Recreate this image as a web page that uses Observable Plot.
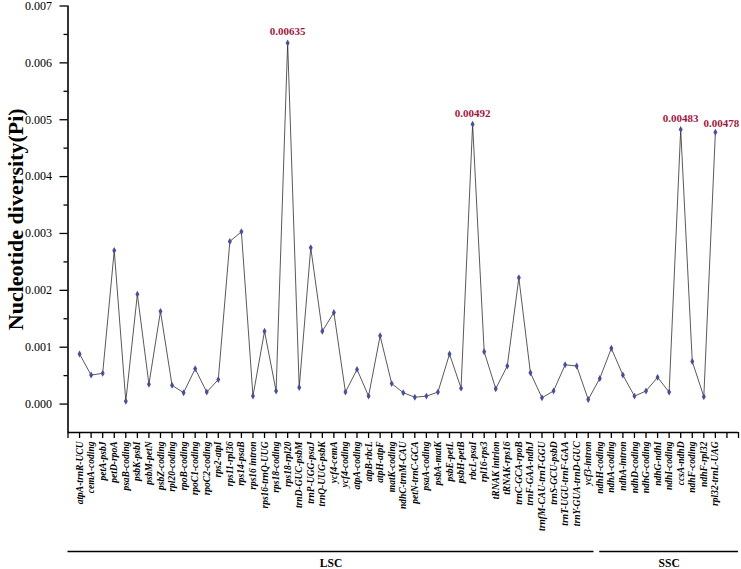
<!DOCTYPE html>
<html>
<head>
<meta charset="utf-8">
<script src="https://cdn.jsdelivr.net/npm/d3@7"></script>
<script src="https://cdn.jsdelivr.net/npm/@observablehq/plot@0.6"></script>
<style>
  html, body { margin: 0; padding: 0; background: white; }
</style>
</head>
<body>
<div id="chart"></div>
<script>
const categories = [
  "atpA-trnR-UCU","cemA-coding","petA-psbJ","petD-rpoA","psaB-coding","psbK-psbI","psbM-petN",
  "psbZ-coding","rpl20-coding","rpoB-coding","rpoC1-coding","rpoC2-coding","rps2-atpI","rps11-rpl36",
  "rps14-psaB","rps16 intron","rps16-trnQ-UUG","rps18-coding","rps18-rpl20","trnD-GUC-psbM",
  "trnP-UGG-psaJ","trnQ-UUG-psbK","ycf4-cemA","ycf4-coding","atpA-coding","atpB-rbcL","atpH-atpF",
  "matK-coding","ndhC-trnM-CAU","petN-trnC-GCA","psaA-coding","psbA-matK","psbE-petL","psbH-petB",
  "rbcL-psaI","rpl16-rps3","tRNAK intrion","tRNAK-rps16","trnC-GCA-rpoB","trnF-GAA-ndhJ",
  "trnfM-CAU-trnT-GGU","trnS-GCU-psbD","trnT-UGU-trnF-GAA","trnY-GUA-trnD-GUC","ycf3-intron",
  "ndhH-coding","ndhA-coding","ndhA-intron","ndhD-coding","ndhG-coding","ndhG-ndhI","ndhI-coding",
  "ccsA-ndhD","ndhF-coding","ndhF-rpl32","rpl32-trnL-UAG"
];

const pi = [
  0.00088, 0.00051, 0.00054, 0.00270, 0.00005, 0.00193, 0.00035,
  0.00163, 0.00033, 0.00020, 0.00062, 0.00021, 0.00043, 0.00286,
  0.00303, 0.00014, 0.00128, 0.00023, 0.00635, 0.00029,
  0.00275, 0.00128, 0.00161, 0.00021, 0.00061, 0.00014, 0.00120,
  0.00036, 0.00020, 0.00012, 0.00014, 0.00021, 0.00088, 0.00028,
  0.00492, 0.00092, 0.00027, 0.00067, 0.00222, 0.00055,
  0.00011, 0.00023, 0.00069, 0.00067, 0.00008,
  0.00045, 0.00098, 0.00051, 0.00014, 0.00023, 0.00047, 0.00021,
  0.00483, 0.00075, 0.00013, 0.00478
];

const regions = [
  {name: "LSC", first: "atpA-trnR-UCU", last: "ycf3-intron"},
  {name: "SSC", first: "ndhH-coding", last: "rpl32-trnL-UAG"}
];

const yTicks = [0, 0.001, 0.002, 0.003, 0.004, 0.005, 0.006, 0.007];
const yMinorTicks = [0.0005, 0.0015, 0.0025, 0.0035, 0.0045, 0.0055, 0.0065];
const yLabel = "Nucleotide diversity(Pi)";
const peakThreshold = 0.004;

const n = categories.length;
const data = categories.map((c, i) => ({i: i + 1, name: c, pi: pi[i]}));
const peaks = data.filter(d => d.pi > peakThreshold);
// a peak label that would collide with the previous one is nudged aside
const crowded = peaks.filter((d, k) => k > 0 && d.i - peaks[k - 1].i <= 4);
const clear = peaks.filter(d => !crowded.includes(d));
const yMin = -0.0005;
const xMax = n + 2;

const regionRows = regions.map(r => {
  const s = categories.indexOf(r.first) + 1;
  const e = categories.indexOf(r.last) + 1;
  const x1 = s === 1 ? 0 : s;
  const x2 = e === n ? xMax : e + 0.5;
  return {name: r.name, x1, x2, xm: (x1 + x2) / 2};
});

const serif = "'Liberation Serif', 'Times New Roman', serif";
const fmtPeak = d => d3.format(".5f")(d.pi);

const chart = Plot.plot({
  width: 741,
  height: 569,
  marginLeft: 67.5,
  marginRight: 3,
  marginTop: 5.5,
  marginBottom: 137,
  x: {domain: [0, xMax]},
  y: {domain: [yMin, 0.007]},
  style: {fontFamily: serif, background: "white", color: "black"},
  marks: [
    Plot.axisY(yTicks, {tickFormat: d3.format(".3f"), tickSize: 8, tickPadding: 8, fontSize: 12,
      fontFamily: serif, strokeWidth: 1.3, label: null}),
    Plot.axisY(yMinorTicks, {tickFormat: () => "", tickSize: 4, strokeWidth: 1.3, label: null}),
    Plot.axisX(d3.range(0, xMax + 1), {
      tickFormat: i => categories[i - 1] ?? "",
      tickRotate: -90, tickSize: 6, tickPadding: 3,
      fontSize: 9.5, fontWeight: "bold", fontStyle: "italic", fontFamily: serif,
      strokeWidth: 1.3, label: null
    }),
    Plot.ruleX([0], {stroke: "black", strokeWidth: 1.6}),
    Plot.ruleY([yMin], {stroke: "black", strokeWidth: 1.6}),
    Plot.line(data, {x: "i", y: "pi", stroke: "#222", strokeWidth: 0.75}),
    Plot.dot(data, {x: "i", y: "pi", symbol: "diamond", r: 2.1, fill: "#474f98", stroke: "none"}),
    Plot.text(clear, {x: "i", y: "pi", text: fmtPeak, dy: -11,
      fill: "#a3173f", fontWeight: "bold", fontSize: 11, fontFamily: serif}),
    Plot.text(crowded, {x: "i", y: "pi", text: fmtPeak, dy: -9, dx: 6,
      fill: "#a3173f", fontWeight: "bold", fontSize: 11, fontFamily: serif}),
    Plot.text([yLabel], {frameAnchor: "left", rotate: -90, dx: -52, textAnchor: "middle",
      fontSize: 22, fontWeight: "bold", fontFamily: serif}),
    Plot.ruleY(regionRows, {x1: "x1", x2: "x2", y: () => yMin, dy: 119, stroke: "black", strokeWidth: 1.3}),
    Plot.text(regionRows, {x: "xm", y: () => yMin, dy: 131, text: "name", fontSize: 11.5, fontWeight: "bold", fontFamily: serif})
  ]
});

document.getElementById("chart").appendChild(chart);
</script>
</body>
</html>
